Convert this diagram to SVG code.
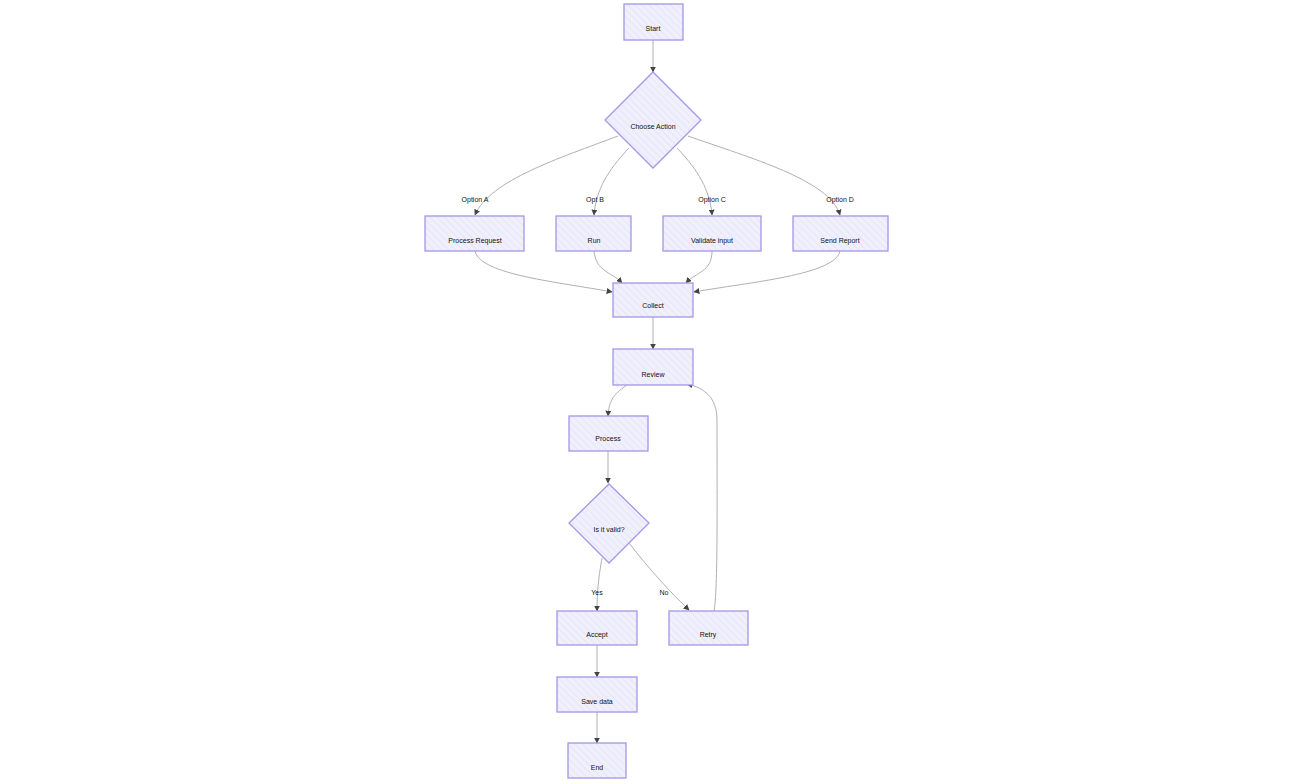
<svg xmlns="http://www.w3.org/2000/svg" width="1313" height="784" viewBox="0 0 1313 784">
<style>
.n{fill:url(#hatch);stroke:#a596e6;stroke-width:1.3}
.t{font-family:"Liberation Sans",Arial,sans-serif;font-size:7px;fill:#111;text-anchor:middle;dominant-baseline:central}
.e{fill:none;stroke:#b0b0b0;stroke-width:1}
.l{font-family:"Liberation Sans",Arial,sans-serif;font-size:7px;fill:#111;text-anchor:middle;dominant-baseline:central}
</style>
<defs>
<pattern id="hatch" patternUnits="userSpaceOnUse" width="5" height="5" patternTransform="rotate(-45)">
<rect width="5" height="5" fill="#f0effc"/>
<line x1="0" y1="0" x2="0" y2="5" stroke="#dedaf7" stroke-width="1"/>
</pattern>
<marker id="arr" viewBox="0 0 10 10" refX="9" refY="5" markerWidth="6" markerHeight="6" orient="auto-start-reverse">
<path d="M0,0 L10,5 L0,10 z" fill="#444"/>
</marker>
</defs>
<rect width="1313" height="784" fill="#ffffff"/>
<g id="connectors">
<path class="e" d="M653,40 L653,72" marker-end="url(#arr)"/>
<path class="e" d="M618,136 C560,158 490,180 475,215" marker-end="url(#arr)"/>
<path class="e" d="M629,148 C608,170 596,190 594,215" marker-end="url(#arr)"/>
<path class="e" d="M677,148 C698,170 710,190 712,215" marker-end="url(#arr)"/>
<path class="e" d="M688,136 C750,158 830,180 840,215" marker-end="url(#arr)"/>
<path class="e" d="M475,251 C480,275 560,282 612,292" marker-end="url(#arr)"/>
<path class="e" d="M594,251 C596,272 612,272 622,283" marker-end="url(#arr)"/>
<path class="e" d="M712,251 C712,272 696,272 686,283" marker-end="url(#arr)"/>
<path class="e" d="M840,251 C835,275 750,282 694,292" marker-end="url(#arr)"/>
<path class="e" d="M653,317 L653,349" marker-end="url(#arr)"/>
<path class="e" d="M627,385 C612,395 609,402 608,416" marker-end="url(#arr)"/>
<path class="e" d="M608,451 L608,483" marker-end="url(#arr)"/>
<path class="e" d="M602,558 C598,580 597,595 597,611" marker-end="url(#arr)"/>
<path class="e" d="M629,543 C650,570 670,592 689,610" marker-end="url(#arr)"/>
<path class="e" d="M714,611 C718,590 717,500 717,420 C717,398 705,388 687,384" marker-end="url(#arr)"/>
<path class="e" d="M597,645 L597,677" marker-end="url(#arr)"/>
<path class="e" d="M597,712 L597,743" marker-end="url(#arr)"/>
<text class="l" x="475" y="199">Option A</text>
<text class="l" x="595" y="199">Opt B</text>
<text class="l" x="712" y="199">Option C</text>
<text class="l" x="840" y="199">Option D</text>
<text class="l" x="597" y="592">Yes</text>
<text class="l" x="664" y="592">No</text>
</g>
<g id="start"><rect class="n" x="624" y="4" width="59" height="36"/><text class="t" x="653" y="28">Start</text></g>
<g id="choose"><path class="n" d="M653,72 L701,120 L653,168 L605,120 Z"/><text class="t" x="653" y="126">Choose Action</text></g>
<g id="a"><rect class="n" x="425" y="216" width="99" height="35"/><text class="t" x="475" y="240">Process Request</text></g>
<g id="b"><rect class="n" x="556" y="216" width="75" height="35"/><text class="t" x="594" y="240">Run</text></g>
<g id="c"><rect class="n" x="663" y="216" width="98" height="35"/><text class="t" x="712" y="240">Validate input</text></g>
<g id="d"><rect class="n" x="793" y="216" width="95" height="35"/><text class="t" x="840" y="240">Send Report</text></g>
<g id="merge"><rect class="n" x="613" y="283" width="80" height="34"/><text class="t" x="653" y="305">Collect</text></g>
<g id="loop"><rect class="n" x="613" y="349" width="80" height="36"/><text class="t" x="653" y="374">Review</text></g>
<g id="proc"><rect class="n" x="569" y="416" width="79" height="35"/><text class="t" x="608" y="438">Process</text></g>
<g id="check"><path class="n" d="M609,484 L649,523 L609,563 L569,523 Z"/><text class="t" x="609" y="529">Is it valid?</text></g>
<g id="yes"><rect class="n" x="557" y="611" width="80" height="34"/><text class="t" x="597" y="634">Accept</text></g>
<g id="no"><rect class="n" x="669" y="611" width="79" height="34"/><text class="t" x="708" y="634">Retry</text></g>
<g id="save"><rect class="n" x="557" y="677" width="80" height="35"/><text class="t" x="597" y="701">Save data</text></g>
<g id="end"><rect class="n" x="568" y="743" width="58" height="35"/><text class="t" x="597" y="767">End</text></g>
</svg>
